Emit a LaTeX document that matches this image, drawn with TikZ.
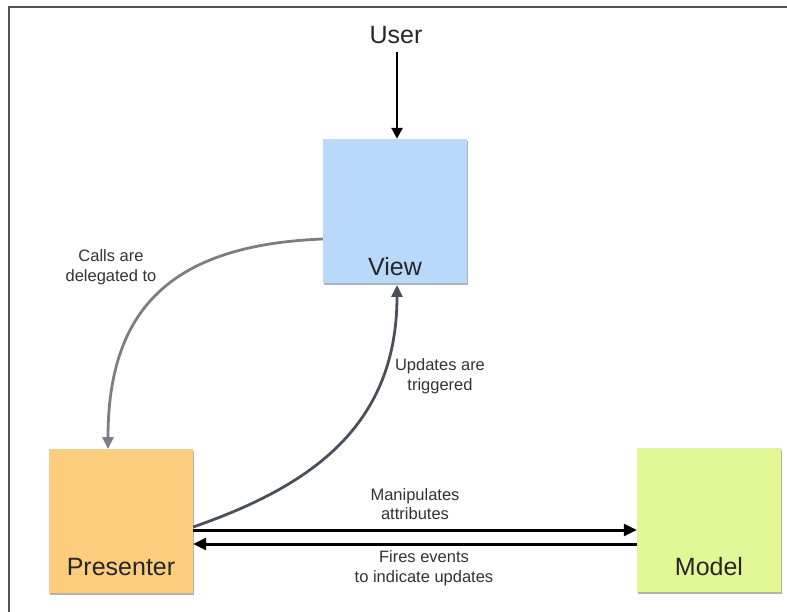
\documentclass[tikz,border=0pt]{standalone}
\usepackage{fontspec}
\setmainfont{Liberation Sans}
\usetikzlibrary{arrows.meta,shadows}
\definecolor{viewc}{HTML}{B9D9FA}
\definecolor{presc}{HTML}{FDCD7E}
\definecolor{modc}{HTML}{E2F896}
\definecolor{framec}{HTML}{555555}
\definecolor{lightarr}{HTML}{7B7F85}
\definecolor{darkarr}{HTML}{4A5059}
\definecolor{txt}{HTML}{333333}
\tikzset{
  box/.style={minimum width=144pt, minimum height=144pt, inner sep=0pt, draw=none,
    drop shadow={shadow xshift=1pt, shadow yshift=-2pt, opacity=0.3, fill=black}},
  boxlabel/.style={font=\fontsize{25}{28}\selectfont, text=black!85, inner sep=0pt},
  small/.style={font=\fontsize{16.5}{19.5}\selectfont, text=txt, align=center, inner sep=0pt},
  blackarr/.style={draw=black, line width=3pt, -{Triangle[length=13pt,width=12pt]}},
  userarr/.style={draw=black, line width=2.6pt, -{Triangle[length=11pt,width=11pt]}},
  grayarr/.style={draw=lightarr, line width=2.8pt, -{Triangle[length=12pt,width=11pt]}},
  darkgrayarr/.style={draw=darkarr, line width=2.8pt, -{Triangle[length=12pt,width=11pt]}},
}
\begin{document}
\begin{tikzpicture}[x=1pt,y=-1pt]
\useasboundingbox (0,0) rectangle (787,612);
\draw[framec, line width=2pt] (8.5,612) -- (8.5,7.5) -- (787,7.5);

\node[box, fill=viewc] (view) at (395,211) {};
\node[box, fill=presc] (pres) at (121,521) {};
\node[box, fill=modc] (model) at (709,520) {};

\node[boxlabel] at (395,267) {View};
\node[boxlabel] at (121,567) {Presenter};
\node[boxlabel] at (709,567) {Model};

\node[font=\fontsize{25}{28}\selectfont, text=black!85, inner sep=0pt] (user) at (396,35) {User};

\coordinate (ustart) at (397,52);
\draw[userarr] (ustart) -- (view.north -| ustart);

% Calls are delegated to
\coordinate (cstart) at (view.west |- 0,239);
\coordinate (cend) at (108,449);
\draw[grayarr] (cstart) .. controls (170,245) and (108,310) .. (cend);
\node[small] at (111,267) {Calls are\\delegated to};

% Updates are triggered
\coordinate (ustart2) at (pres.east |- 0,527);
\coordinate (uend) at (397,285);
\draw[darkgrayarr] (ustart2) .. controls (305,488) and (397,430) .. (uend);
\node[small] at (440,376) {Updates are\\triggered};

% Manipulates / Fires events
\coordinate (m1) at (pres.east |- 0,530);
\coordinate (m2) at (model.west |- 0,530);
\draw[blackarr] (m1) -- (m2);
\node[small] at (415,504) {Manipulates\\attributes};

\coordinate (f1) at (model.west |- 0,544);
\coordinate (f2) at (pres.east |- 0,544);
\draw[blackarr] (f1) -- (f2);
\node[small] at (424,568) {Fires events\\to indicate updates};
\end{tikzpicture}
\end{document}
